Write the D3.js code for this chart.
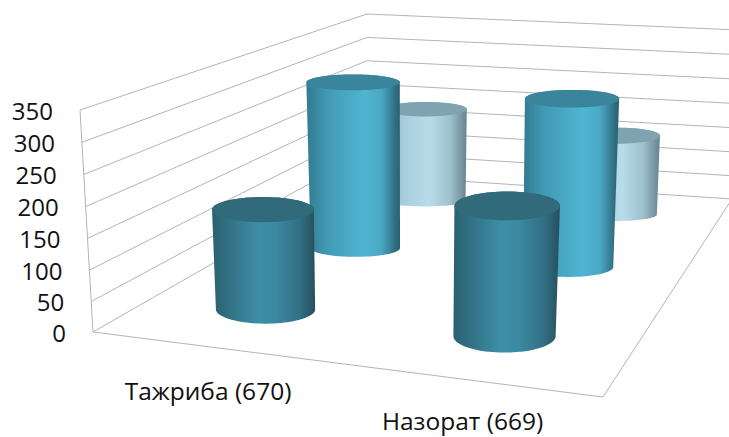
<!DOCTYPE html>
<html><head><meta charset="utf-8">
<script src="https://cdn.jsdelivr.net/npm/d3@7"></script>
<style>html,body{margin:0;background:#fff}svg{display:block}text{font-family:"Open Sans",sans-serif;fill:#111}</style>
</head><body><svg id="c" width="729" height="437"></svg>
<script>
const categories=["Тажриба (670)","Назорат (669)"];
const seriesNames=["front","middle","back"];
const frontValues=[165,210];
const middleValues=[300,298];
const backValues=[187,158];
const tickValues=[0,50,100,150,200,250,300,350];

const svg=d3.select("#c");
const Q={fl:[93,332],fr:[603,397],br:[732,199],bl:[367,175]};
const rise={fl:[-13,-222],fr:[10,-232],br:[6,-169],bl:[0,-161]};
const [x0,y0]=Q.fl,[x1,y1]=Q.fr,[x2,y2]=Q.br,[x3,y3]=Q.bl;
const dx1=x1-x2,dx2=x3-x2,dx3=x0-x1+x2-x3,dy1=y1-y2,dy2=y3-y2,dy3=y0-y1+y2-y3;
const den=dx1*dy2-dx2*dy1;
const g=(dx3*dy2-dx2*dy3)/den,h=(dx1*dy3-dx3*dy1)/den;
const a=x1-x0+g*x1,b=x3-x0+h*x3,c=x0,d=y1-y0+g*y1,e=y3-y0+h*y3,f=y0;
function floor(u,v){const W=g*u+h*v+1;return [(a*u+b*v+c)/W,(d*u+e*v+f)/W];}
function project(u,v,w){
  const pt=floor(u,v);
  const k=i=>(1-u)*(1-v)*rise.fl[i]+u*(1-v)*rise.fr[i]+u*v*rise.br[i]+(1-u)*v*rise.bl[i];
  return [pt[0]+k(0)*w,pt[1]+k(1)*w];
}

const wScale=d3.scalePow().exponent(1.02).domain([0,350]).range([0,1]);
const uScale=d3.scalePoint().domain(categories).range([0.01,1.01]).padding(0.5);
const vScale=d3.scalePoint().domain(seriesNames).range([0,1]).padding(0.5);
const radiusU=[0.112,0.099];
const ellipse={front:{rv:.069,top:.87},middle:{rv:.055,top:.9},back:{rv:.046,top:1.25}};

const line=d3.line();
const grid=svg.append("g").attr("fill","none").attr("stroke","#b4b4b4").attr("stroke-width",1);
tickValues.forEach(t=>{const w=wScale(t);
  grid.append("path").attr("d",line([project(0,0,w),project(0,1,w)]));
  grid.append("path").attr("d",line([project(0,1,w),project(1,1,w)]));
});
grid.append("path").attr("d",line([project(0,0,0),project(0,0,1)]));
grid.append("path").attr("d",line([project(0,0,0),project(1,0,0),project(1,1,0)]));

const styles={
 front:{top:"#306a7b",stops:[[0,"#29606f"],[.15,"#317082"],[.45,"#3d8ea8"],[.62,"#3b88a2"],[.85,"#336f84"],[1,"#264f5c"]]},
 middle:{top:"#3a859c",stops:[[0,"#337a90"],[.22,"#429ab5"],[.62,"#4fb5d2"],[.8,"#4aa8c4"],[.95,"#2f6e82"],[1,"#2a6172"]]},
 back:{top:"#7fa3b1",stops:[[0,"#93b5c4"],[.25,"#a8cddd"],[.55,"#b8dcea"],[.8,"#9fc0cd"],[1,"#66838e"]]}
};
const defs=svg.append("defs");
const series=[["back",backValues],["middle",middleValues],["front",frontValues]];
const angles=d3.range(0,360,4).map(x=>x*Math.PI/180);
series.forEach(([name,values])=>{
  categories.forEach((cat,i)=>{
    const cu=uScale(cat),cv=vScale(name),w=wScale(values[i]);
    const rv=ellipse[name].rv,ru=radiusU[i];
    const rx=Math.abs(floor(cu+ru,cv)[0]-floor(cu-ru,cv)[0])/2;
    const ry=Math.abs(floor(cu,cv+rv)[1]-floor(cu,cv-rv)[1])/2;
    const ring=(pt,sx,sy)=>angles.map(t=>[pt[0]+rx*sx*Math.cos(t),pt[1]+ry*sy*Math.sin(t)]);
    const low=ring(project(cu,cv,0),1,1);
    const high=ring(project(cu,cv,w),1+0.055*w,ellipse[name].top);
    const hull=d3.polygonHull(low.concat(high));
    const ex=d3.extent(hull,pt=>pt[0]);
    const id=`g-${name}-${i}`;
    const lg=defs.append("linearGradient").attr("id",id).attr("gradientUnits","userSpaceOnUse")
      .attr("x1",ex[0]).attr("x2",ex[1]).attr("y1",0).attr("y2",0);
    styles[name].stops.forEach(s=>lg.append("stop").attr("offset",s[0]).attr("stop-color",s[1]));
    svg.append("path").attr("d",line(hull)+"Z").attr("fill",`url(#${id})`);
    svg.append("path").attr("d",line(high)+"Z").attr("fill",styles[name].top);
  });
});

tickValues.forEach(t=>{const pt=project(0,0,wScale(t));
  svg.append("text").attr("x",pt[0]-27).attr("y",pt[1]+1).attr("dy","0.36em").attr("text-anchor","end").attr("font-size",24).text(t);
});
categories.forEach((cat,i)=>{
  const pt=project(uScale(cat),0,0);
  svg.append("text").attr("x",pt[0]-2).attr("y",pt[1]+53-2*i).attr("text-anchor","middle").attr("font-size",24.5).text(cat);
});
</script></body></html>
